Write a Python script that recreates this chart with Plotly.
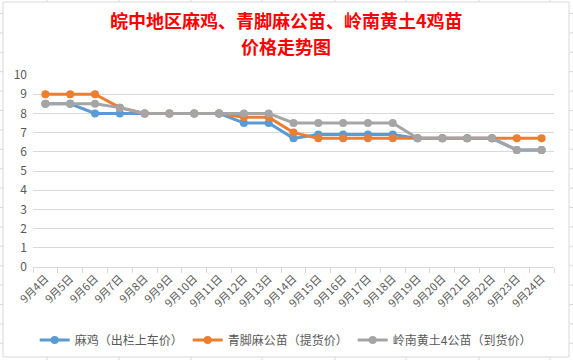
import plotly.graph_objects as go

dates = ["9月4日", "9月5日", "9月6日", "9月7日", "9月8日", "9月9日", "9月10日",
         "9月11日", "9月12日", "9月13日", "9月14日", "9月15日", "9月16日",
         "9月17日", "9月18日", "9月19日", "9月20日", "9月21日", "9月22日",
         "9月23日", "9月24日"]

maji = [8.5, 8.5, 8.0, 8.0, 8.0, 8.0, 8.0, 8.0, 7.5, 7.5, 6.7, 6.9, 6.9,
        6.9, 6.9, 6.7, 6.7, 6.7, 6.7, 6.1, 6.1]
qingjiao = [9.0, 9.0, 9.0, 8.3, 8.0, 8.0, 8.0, 8.0, 7.8, 7.8, 7.0, 6.7, 6.7,
            6.7, 6.7, 6.7, 6.7, 6.7, 6.7, 6.7, 6.7]
lingnan = [8.5, 8.5, 8.5, 8.3, 8.0, 8.0, 8.0, 8.0, 8.0, 8.0, 7.5, 7.5, 7.5,
           7.5, 7.5, 6.7, 6.7, 6.7, 6.7, 6.1, 6.1]

names = ["麻鸡（出栏上车价）", "青脚麻公苗（提货价）", "岭南黄土4公苗（到货价）"]
colors = ["#5B9BD5", "#ED7D31", "#A5A5A5"]
y_ticks = list(range(0, 11))
title_lines = ["皖中地区麻鸡、青脚麻公苗、岭南黄土4鸡苗", "价格走势图"]

FONT = "Noto Sans CJK SC, Microsoft YaHei, sans-serif"

fig = go.Figure()
for name, vals, col in zip(names, [maji, qingjiao, lingnan], colors):
    fig.add_trace(go.Scatter(
        x=dates, y=vals, name=name, mode="lines+markers",
        line=dict(color=col, width=3),
        marker=dict(color=col, size=8, symbol="circle"),
    ))

# Layout geometry (pixels)
W, H = 573, 360
L, R, T, B = 33, 19, 75, 93
pw, ph = W - L - R, H - T - B

def px_x(p):
    return (p - L) / pw

def px_y(p):
    return (H - B - p) / ph

grid_col = "#D9D9D9"
shapes = []
# Excel sheet grid marks outside the chart border
for gx in [47, 119, 191, 262, 335, 406, 479, 550]:
    shapes.append(dict(type="line", xref="paper", yref="paper",
                       x0=px_x(gx), x1=px_x(gx), y0=px_y(0), y1=px_y(2),
                       line=dict(color=grid_col, width=1), layer="below"))
    shapes.append(dict(type="line", xref="paper", yref="paper",
                       x0=px_x(gx), x1=px_x(gx), y0=px_y(357), y1=px_y(360),
                       line=dict(color=grid_col, width=1), layer="below"))
gy = 13.5
while gy < 360:
    shapes.append(dict(type="line", xref="paper", yref="paper",
                       x0=px_x(0), x1=px_x(3), y0=px_y(gy), y1=px_y(gy),
                       line=dict(color=grid_col, width=1), layer="below"))
    shapes.append(dict(type="line", xref="paper", yref="paper",
                       x0=px_x(569), x1=px_x(573), y0=px_y(gy), y1=px_y(gy),
                       line=dict(color=grid_col, width=1), layer="below"))
    gy += 19.4
# chart border
shapes.append(dict(type="rect", xref="paper", yref="paper",
                   x0=px_x(3), x1=px_x(569), y0=px_y(357), y1=px_y(2),
                   line=dict(color=grid_col, width=1), layer="below"))

annotations = []
for txt, cy in zip(title_lines, [20, 46]):
    annotations.append(dict(
        text="<b>" + txt + "</b>", xref="paper", yref="paper",
        x=px_x(286), y=px_y(cy), xanchor="center", yanchor="middle",
        showarrow=False, borderpad=0,
        font=dict(family=FONT, size=18, color="#FF0000"),
    ))

fig.update_layout(
    width=W, height=H,
    margin=dict(l=L, r=R, t=T, b=B, autoexpand=False),
    paper_bgcolor="white", plot_bgcolor="white",
    font=dict(family=FONT, color="#595959", size=12),
    xaxis=dict(
        type="category", tickangle=-45, tickson="boundaries",
        ticks="outside", ticklen=5, tickcolor=grid_col,
        showline=True, linecolor=grid_col, linewidth=1,
        showgrid=False, tickfont=dict(size=11, color="#595959"),
        range=[-0.5, len(dates) - 0.5], automargin=False,
    ),
    yaxis=dict(
        range=[0, 10], tickvals=y_ticks, ticktext=[str(v) for v in y_ticks],
        showgrid=True, gridcolor=grid_col, gridwidth=1,
        zeroline=False, showline=False, ticks="",
        tickfont=dict(size=12, color="#595959"), automargin=False,
        ticklabelstandoff=5,
    ),
    legend=dict(
        orientation="h", x=0.485, xanchor="center",
        y=px_y(340), yanchor="middle", yref="paper",
        font=dict(size=12, color="#595959"),
        itemwidth=30, tracegroupgap=0,
    ),
    shapes=shapes,
    annotations=annotations,
)

fig.write_html(
    "out.html",
    config={"displayModeBar": False},
    post_script="document.body.style.margin='0';document.body.style.overflow='hidden';",
)
